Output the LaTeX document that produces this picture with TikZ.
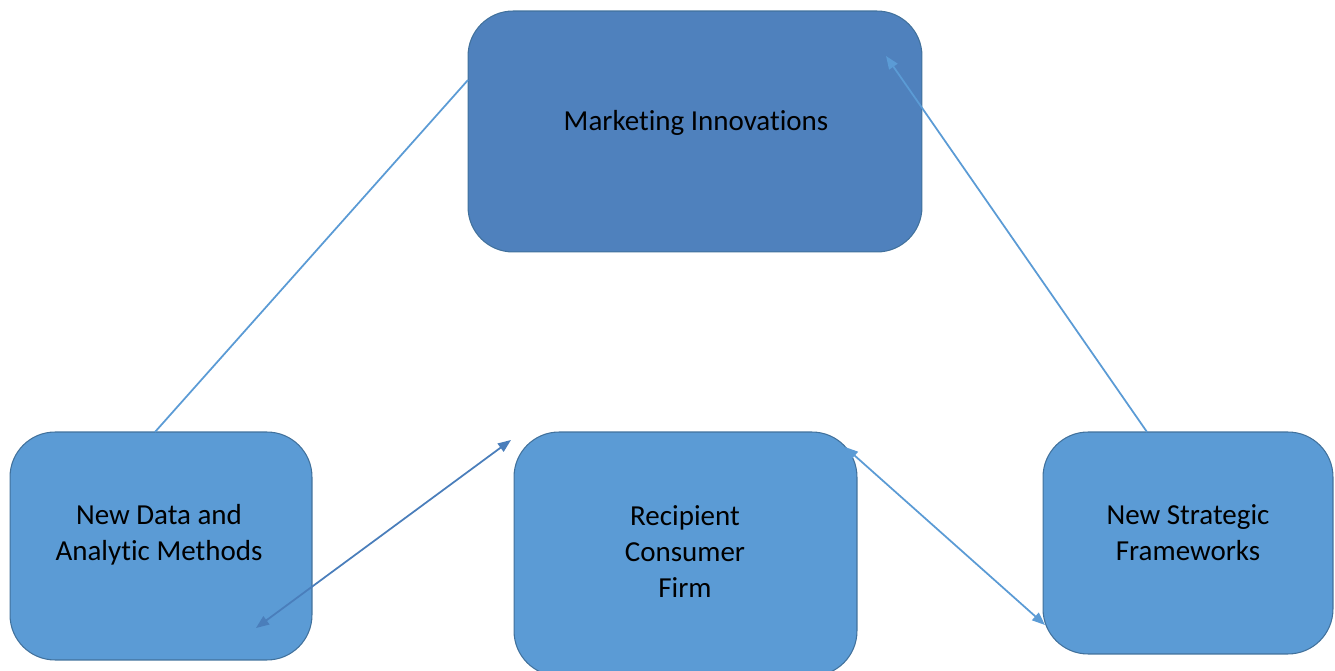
\documentclass[tikz,border=0pt]{standalone}
\usepackage{fontspec}
\setmainfont{Carlito}[Ligatures=NoCommon]
\usetikzlibrary{arrows.meta}

\definecolor{topfill}{HTML}{4F81BD}
\definecolor{boxfill}{HTML}{5B9BD5}
\definecolor{boxedge}{HTML}{41719C}
\definecolor{linkblue}{HTML}{5B9BD5}
\definecolor{linkdark}{HTML}{4A7EBB}

\begin{document}
\begin{tikzpicture}[x=0.02cm, y=-0.02cm,
    box/.style={draw=boxedge, line width=0.6pt, rounded corners=0.9cm, inner sep=0pt},
    txt/.style={align=center, text=black, font=\fontsize{16.5}{20.5}\selectfont},
    link/.style={draw=linkblue, line width=1pt},
    tip/.style={-{Triangle[length=0.26cm, width=0.2cm]}},
    tips/.style={{Triangle[length=0.26cm, width=0.2cm]}-{Triangle[length=0.26cm, width=0.2cm]}}]
    \useasboundingbox (0,0) rectangle (1335,671);

    % boxes
    \node[box, fill=topfill, minimum width=9.08cm, minimum height=4.82cm] (innov) at (695,131.5) {};
    \node[box, fill=boxfill, minimum width=6.04cm, minimum height=4.56cm] (data) at (161,546) {};
    \node[box, fill=boxfill, minimum width=6.86cm, minimum height=4.88cm] (recip) at (685.5,554) {};
    \node[box, fill=boxfill, minimum width=5.8cm, minimum height=4.44cm] (strat) at (1188,543) {};

    % labels
    \node[txt] (innov-t) at (696,123) {Marketing Innovations};
    \node[txt] (data-t) at (159,535) {New Data and\\Analytic Methods};
    \node[txt] (recip-t) at (685,552) {Recipient\\Consumer\\Firm};
    \node[txt] (strat-t) at (1188,533) {New Strategic\\Frameworks};

    % free ends of the links
    \coordinate (d1) at (155,432);
    \coordinate (i1) at (468,80);
    \coordinate (s1) at (1147,432);
    \coordinate (i2) at (886,56);
    \coordinate (d2) at (256,628);
    \coordinate (r1) at (511,440);
    \coordinate (r2) at (845,447);
    \coordinate (s2) at (1045,625);

    % links
    \draw[link] (d1) -- (i1);
    \draw[link, tip] (s1) -- (i2);
    \draw[link, draw=linkdark, tips] (d2) -- (r1);
    \draw[link, tips] (r2) -- (s2);
\end{tikzpicture}
\end{document}
